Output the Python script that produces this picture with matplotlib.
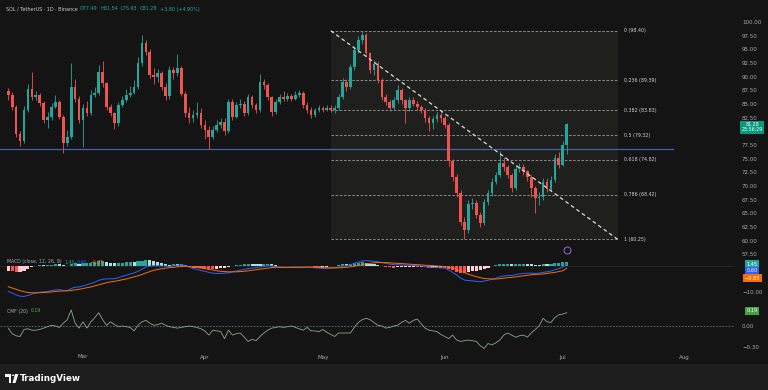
import numpy as np
import matplotlib
matplotlib.use("Agg")
import matplotlib.pyplot as plt
import matplotlib.dates as mdates
from matplotlib.patches import Rectangle, Circle, Polygon

# ---------------- data ----------------
start_date = "2024-02-11"
first_open = 87.4
closes = [86.6, 84.5, 79.5, 78.3, 84.0, 87.8, 86.3, 86.6, 85.2, 82.0,
          82.7, 84.5, 85.3, 82.7, 77.8, 79.0, 88.1, 86.0, 82.1, 84.2,
          83.4, 86.7, 87.1, 90.9, 88.8, 84.5, 83.3, 81.5, 84.8, 85.7,
          86.6, 87.0, 88.1, 92.5, 96.2, 94.6, 90.3, 89.9, 90.6, 88.2,
          86.4, 91.2, 90.6, 91.6, 86.9, 83.4, 82.5, 83.0, 83.4, 81.2,
          80.3, 79.0, 80.3, 81.2, 81.8, 80.0, 85.4, 82.7, 84.8, 85.1,
          83.3, 86.3, 84.8, 83.9, 89.1, 88.5, 86.3, 83.6, 85.4, 86.3,
          86.0, 86.5, 86.0, 86.6, 87.0, 84.8, 83.9, 83.0, 83.9, 84.2,
          84.0, 84.3, 84.0, 84.2, 86.3, 89.1, 88.2, 91.8, 94.9, 96.7,
          97.6, 94.3, 91.2, 92.4, 89.4, 86.3, 85.4, 84.2, 85.7, 87.6,
          85.7, 84.2, 85.7, 85.1, 84.5, 83.9, 82.4, 81.5, 82.3, 83.0,
          82.4, 81.2, 74.5, 71.7, 68.7, 63.5, 62.0, 66.8, 67.0, 64.7,
          63.2, 67.1, 68.7, 70.8, 72.0, 74.2, 73.5, 72.0, 69.6, 73.2,
          73.5, 72.7, 71.7, 69.6, 67.8, 68.0, 70.8, 69.5, 71.2, 75.1,
          73.9, 77.48, 81.28]
highs = [88.0, 87.2, 84.8, 80.0, 84.6, 88.6, 90.8, 87.4, 87.0, 85.6,
         83.6, 85.2, 86.6, 85.8, 83.0, 80.2, 92.5, 89.6, 86.5, 85.0,
         85.6, 87.6, 88.2, 92.2, 92.8, 89.0, 85.0, 83.6, 85.3, 86.5,
         87.8, 88.3, 89.4, 93.6, 97.6, 96.8, 95.0, 91.6, 91.4, 91.0,
         88.8, 92.0, 91.8, 94.2, 92.0, 87.3, 84.4, 84.0, 85.4, 84.2,
         82.0, 80.9, 81.0, 82.0, 82.4, 82.5, 86.0, 85.9, 85.3, 86.0,
         85.6, 86.9, 86.6, 85.2, 90.5, 89.6, 88.8, 86.5, 86.0, 86.9,
         87.4, 87.0, 86.9, 87.3, 87.6, 87.3, 85.3, 84.4, 84.3, 84.8,
         84.6, 84.8, 84.9, 84.8, 86.8, 89.8, 89.6, 92.4, 95.6, 97.4,
         98.4, 97.9, 94.6, 93.0, 92.8, 89.8, 86.8, 85.8, 86.2, 88.4,
         88.0, 86.0, 86.3, 86.2, 85.6, 84.9, 84.3, 82.9, 82.8, 83.6,
         83.5, 82.9, 81.6, 75.0, 72.2, 69.2, 64.4, 67.4, 67.8, 67.4,
         65.2, 67.6, 69.3, 71.4, 72.6, 76.5, 75.3, 73.9, 72.4, 73.9,
         74.3, 74.0, 73.0, 72.0, 70.0, 69.0, 71.5, 71.4, 71.8, 75.8,
         76.2, 78.2, 81.54]
lows = [85.8, 84.0, 79.0, 77.4, 77.9, 83.6, 85.8, 85.7, 84.7, 81.5,
        80.6, 82.1, 84.2, 82.2, 76.0, 77.3, 78.6, 85.4, 81.5, 77.2,
        82.8, 83.0, 86.2, 86.6, 88.2, 84.0, 82.8, 80.4, 81.0, 84.5,
        85.3, 86.2, 86.8, 87.8, 92.0, 94.0, 89.8, 88.6, 89.0, 87.6,
        85.8, 86.0, 89.6, 90.2, 86.4, 82.6, 81.5, 81.8, 82.4, 80.6,
        78.6, 76.8, 78.6, 79.8, 80.6, 79.4, 79.7, 82.0, 82.4, 84.3,
        82.8, 83.0, 84.3, 83.3, 83.6, 87.8, 85.8, 82.9, 83.2, 85.0,
        85.5, 85.6, 85.5, 85.7, 86.2, 84.3, 83.4, 82.5, 82.6, 83.6,
        83.5, 83.7, 83.6, 83.4, 83.9, 86.0, 87.4, 87.8, 91.3, 94.4,
        96.0, 93.8, 90.6, 90.4, 88.8, 85.8, 84.8, 83.7, 83.9, 85.2,
        85.0, 81.5, 83.8, 84.6, 84.0, 83.3, 81.8, 80.0, 80.4, 81.8,
        81.8, 80.6, 73.6, 71.0, 68.0, 62.8, 60.3, 61.5, 65.8, 64.1,
        62.5, 62.8, 66.6, 68.2, 70.3, 71.6, 72.8, 71.4, 69.0, 69.2,
        72.6, 72.0, 70.9, 68.0, 65.0, 66.5, 67.5, 68.9, 69.1, 70.8,
        73.4, 73.6, 75.93]

macd_line = [-9.6, -10.2, -10.9, -11.4, -11.5, -11.1, -10.6, -10.2, -9.9, -9.8,
             -9.6, -9.3, -9.0, -8.9, -9.2, -9.3, -8.5, -8.0, -7.9, -7.5,
             -7.1, -6.6, -6.1, -5.4, -5.0, -4.9, -4.8, -4.8, -4.4, -3.9,
             -3.5, -3.0, -2.6, -2.0, -1.2, -0.4, 0.0, 0.1, 0.1, 0.0,
             0.0, -0.2, 0.1, 0.3, 0.5, 0.2, -0.4, -0.9, -1.3, -1.7,
             -2.0, -2.4, -2.7, -2.8, -2.8, -2.7, -2.6, -2.2, -1.9, -1.6,
             -1.3, -1.0, -0.8, -0.6, -0.4, -0.2, 0.1, 0.0, -0.2, -0.4,
             -0.5, -0.5, -0.4, -0.4, -0.4, -0.4, -0.4, -0.5, -0.7, -0.8,
             -0.9, -0.9, -0.8, -0.7, -0.4, 0.0, 0.1, 0.5, 1.0, 1.5,
             1.9, 2.0, 1.9, 1.8, 1.6, 1.3, 1.0, 0.7, 0.5, 0.5,
             0.4, 0.3, 0.3, 0.2, 0.1, 0.0, -0.2, -0.4, -0.5, -0.6,
             -0.7, -0.8, -1.5, -2.4, -3.4, -4.5, -5.3, -5.5, -5.6, -5.8,
             -5.9, -5.7, -5.4, -5.0, -4.6, -4.1, -3.8, -3.6, -3.6, -3.3,
             -3.0, -2.8, -2.7, -2.7, -2.8, -2.7, -2.4, -2.2, -1.9, -1.4,
             -1.0, -0.4, 0.6]
signal_line = [-7.8, -8.3, -8.8, -9.3, -9.7, -10.0, -10.1, -10.1, -10.1, -10.0,
               -9.9, -9.8, -9.6, -9.5, -9.4, -9.4, -9.2, -9.0, -8.8, -8.5,
               -8.2, -7.9, -7.5, -7.1, -6.7, -6.3, -6.0, -5.8, -5.5, -5.2,
               -4.9, -4.5, -4.1, -3.7, -3.2, -2.6, -2.1, -1.6, -1.3, -1.0,
               -0.8, -0.6, -0.5, -0.3, -0.2, -0.1, -0.2, -0.3, -0.5, -0.8,
               -1.0, -1.3, -1.5, -1.8, -2.0, -2.1, -2.2, -2.2, -2.2, -2.1,
               -2.0, -1.8, -1.6, -1.4, -1.2, -1.0, -0.8, -0.6, -0.5, -0.5,
               -0.5, -0.5, -0.5, -0.5, -0.5, -0.5, -0.4, -0.4, -0.5, -0.5,
               -0.6, -0.7, -0.7, -0.7, -0.7, -0.6, -0.5, -0.3, -0.1, 0.2,
               0.5, 0.8, 1.0, 1.2, 1.3, 1.3, 1.3, 1.2, 1.1, 1.0,
               0.9, 0.8, 0.7, 0.6, 0.5, 0.4, 0.3, 0.2, 0.1, 0.0,
               -0.1, -0.2, -0.4, -0.8, -1.3, -1.9, -2.5, -3.1, -3.6, -4.0,
               -4.4, -4.7, -4.8, -4.9, -4.9, -4.8, -4.6, -4.4, -4.3, -4.1,
               -3.9, -3.7, -3.5, -3.3, -3.2, -3.1, -3.0, -2.8, -2.6, -2.4,
               -2.1, -1.8, -0.85]
cmf = [-0.03, -0.11, -0.14, -0.15, -0.05, -0.04, -0.06, -0.06, -0.05, -0.03,
       -0.01, 0.01, 0.00, -0.02, 0.04, 0.09, 0.23, 0.04, -0.03, 0.06,
       -0.03, 0.06, 0.12, 0.19, 0.09, 0.01, 0.06, 0.02, -0.01, 0.00,
       -0.01, -0.02, -0.07, 0.01, 0.06, 0.08, 0.04, 0.01, 0.02, 0.04,
       0.01, -0.01, -0.02, -0.03, -0.02, -0.01, 0.00, -0.01, -0.02, -0.04,
       -0.07, -0.13, -0.06, -0.07, -0.08, -0.18, -0.06, -0.13, -0.11, -0.10,
       -0.16, -0.22, -0.19, -0.21, -0.15, -0.10, -0.06, -0.03, -0.02, -0.01,
       -0.02, -0.01, 0.00, -0.02, -0.04, -0.06, -0.02, -0.07, -0.07, -0.08,
       -0.05, -0.09, -0.12, -0.15, -0.10, -0.10, -0.10, -0.10, -0.02, 0.05,
       0.09, 0.11, 0.09, 0.05, 0.01, 0.00, -0.03, -0.02, 0.00, 0.01,
       0.05, 0.08, 0.04, 0.08, 0.10, 0.03, -0.03, -0.06, -0.07, -0.08,
       -0.12, -0.15, -0.18, -0.13, -0.20, -0.22, -0.21, -0.20, -0.21, -0.22,
       -0.28, -0.32, -0.25, -0.27, -0.24, -0.20, -0.13, -0.10, -0.13, -0.16,
       -0.14, -0.13, -0.16, -0.10, -0.05, 0.00, 0.11, 0.06, 0.05, 0.12,
       0.16, 0.17, 0.19]

fib_ratio_labels = ["0", "0.236", "0.382", "0.5", "0.618", "0.786", "1"]
fib_prices = [98.40, 89.39, 83.83, 79.32, 74.82, 68.42, 60.25]
fib_start = "2024-05-03"
fib_end = "2024-07-15"
hline_price = 76.80
hline_end = "2024-07-29"
month_labels = ["Mar", "Apr", "May", "Jun", "Jul", "Aug"]
month_dates = ["2024-03-01", "2024-04-01", "2024-05-01", "2024-06-01", "2024-07-01", "2024-08-01"]
price_ticks = [57.5, 60.0, 62.5, 65.0, 67.5, 70.0, 72.5, 75.0, 77.5,
               82.5, 85.0, 87.5, 90.0, 92.5, 95.0, 97.5, 100.0]
macd_ticks = [-10.0]
cmf_ticks = [0.0, -0.30]

# ---------------- figure ----------------
W, H = 768, 390
BG = "#141414"
TXT = "#a8abb3"
UP = "#26a69a"
DN = "#ef5350"
plt.rcParams["font.family"] = ["DejaVu Sans"]

fig = plt.figure(figsize=(W / 100, H / 100), dpi=100)
fig.patch.set_facecolor(BG)
fig.patches.append(Rectangle((0, 0), 1, 26 / H, transform=fig.transFigure,
                             facecolor="#1e1e1e", edgecolor="none", zorder=0))


def px_axes(x0, y0, x1, y1):
    a = fig.add_axes([x0 / W, 1 - y1 / H, (x1 - x0) / W, (y1 - y0) / H])
    a.set_facecolor("none")
    for s in a.spines.values():
        s.set_visible(False)
    a.yaxis.tick_right()
    a.tick_params(axis="y", length=0, labelsize=4, colors=TXT, pad=5)
    a.tick_params(axis="x", length=0, labelbottom=False)
    return a


dates = np.arange(np.datetime64(start_date), np.datetime64(start_date) + len(closes))
xd = mdates.date2num(dates)
opens = [first_open] + closes[:-1]
xlim = (xd[0] - 2.1, xd[0] + 184.8)

# price pane: y=22 px -> 100, 5.47 px per unit
ax = px_axes(0, 18, 735, 256)
ax.set_xlim(*xlim)
ax.set_ylim(100 - (256 - 22) / 5.47, 100 + (22 - 18) / 5.47)
ax.set_yticks(price_ticks)
ax.set_yticklabels([f"{v:.2f}" for v in price_ticks])

# fib box
fs, fe = mdates.date2num(np.datetime64(fib_start)), mdates.date2num(np.datetime64(fib_end))
ax.add_patch(Rectangle((fs, fib_prices[-1]), fe - fs, fib_prices[0] - fib_prices[-1],
                       facecolor="#1f201d", edgecolor="none", zorder=0))
for lab, p in zip(fib_ratio_labels, fib_prices):
    ax.plot([fs, fe], [p, p], color="#9a9ca3", lw=0.6, dashes=(3, 2), zorder=1)
    ax.text(fe + 1.6, p, f"{lab} ({p:.2f})", color="#d0d2d8", fontsize=3.4,
            va="center", ha="left")

# blue horizontal line
ax.plot([xlim[0], mdates.date2num(np.datetime64(hline_end))], [hline_price, hline_price],
        color="#4262b0", lw=0.9, zorder=2)

# candles
o = np.array(opens); c = np.array(closes); h = np.array(highs); l = np.array(lows)
cols = np.where(c >= o, UP, DN)
ax.vlines(xd, l, h, colors=cols, lw=0.6, zorder=3)
body_b = np.minimum(o, c)
body_h = np.maximum(np.abs(c - o), 0.12)
ax.bar(xd, body_h, bottom=body_b, width=0.68, color=cols, edgecolor="none", zorder=4)

# trend line
ax.plot([fs, fe], [fib_prices[0], fib_prices[-1]], color="#dcdcdc", lw=0.9,
        dashes=(3, 2.4), zorder=5)

# event marker
ax.plot([xd[-1]], [58.3], marker="o", ms=5, mfc="none", mec="#8a6fd6", mew=0.7,
        clip_on=False, zorder=6)

# MACD pane: zero at y=266, 2.65 px per unit
ax2 = px_axes(0, 256, 735, 302)
ax2.set_xlim(*xlim)
ax2.set_ylim(-(302 - 266) / 2.65, (266 - 256) / 2.65)
ax2.set_yticks(macd_ticks)
ax2.set_yticklabels([f"{v:.2f}".replace("-", "\u2212") for v in macd_ticks])
ml = np.array(macd_line); sl = np.array(signal_line)
hist = ml - sl
hcols = []
for i, v in enumerate(hist):
    prev = hist[i - 1] if i > 0 else v
    if v >= 0:
        hcols.append("#26a69a" if v > prev else "#b2dfdb")
    else:
        hcols.append("#ff5252" if v < prev else "#ffcdd2")
ax2.axhline(0, color="#2a2a2a", lw=0.5, zorder=0)
ax2.bar(xd, hist, width=0.8, color=hcols, edgecolor="none", zorder=2)
ax2.plot(xd, ml, color="#2962ff", lw=0.7, zorder=3)
ax2.plot(xd, sl, color="#ff6d00", lw=0.7, zorder=3)

# CMF pane: zero at y=326, 70 px per unit
ax3 = px_axes(0, 302, 735, 352)
ax3.set_xlim(*xlim)
ax3.set_ylim(-(352 - 326) / 70, (326 - 302) / 70)
ax3.set_yticks(cmf_ticks)
ax3.set_yticklabels([f"{v:.2f}".replace("-", "\u2212") for v in cmf_ticks])
ax3.axhline(0, color="#787b86", lw=0.5, dashes=(2.5, 2), zorder=1)
ax3.plot(xd, cmf, color="#8ea590", lw=0.6, zorder=2)

# month labels
for lab, d in zip(month_labels, month_dates):
    dn = mdates.date2num(np.datetime64(d))
    xp = (dn - xlim[0]) / (xlim[1] - xlim[0]) * 735
    fig.text(xp / W, 1 - 357 / H, lab, color=TXT, fontsize=4, ha="center", va="center")

renderer = fig.canvas.get_renderer()


def seq_text(x_px, y_px, parts, size, gap=2.5):
    x = x_px
    for s, col in parts:
        t = fig.text(x / W, 1 - y_px / H, s, color=col, fontsize=size, va="center", ha="left")
        x += t.get_window_extent(renderer=renderer).width + gap


seq_text(6, 9, [("SOL / TetherUS · 1D · Binance", "#c9ccd3"),
                ("O77.49", UP), ("H81.54", UP), ("L75.93", UP), ("C81.28", UP),
                ("+3.80 (+4.90%)", UP)], 3.5)
seq_text(7, 262, [("MACD (close, 12, 26, 9)", "#a8abb3"), ("1.45", "#26a69a"),
                  ("0.60", "#2962ff"), ("\u22120.85", "#ff6d00")], 3.3)
seq_text(7, 311, [("CMF (20)", "#a8abb3"), ("0.19", "#4caf50")], 3.3)


def box_label(y_px, s, fc, size=3.6, pad=0.35):
    fig.text(752 / W, 1 - y_px / H, s, color="white", fontsize=size, ha="center", va="center",
             linespacing=1.05, bbox=dict(boxstyle=f"square,pad={pad}", fc=fc, ec="none"))


box_label(127.3, "81.28\n23:56:29", "#089981", size=3.4, pad=0.32)
box_label(264, "1.45", "#26a69a")
box_label(271, "0.60", "#2962ff")
box_label(278, "\u22120.85", "#ff6d00")
box_label(311, "0.19", "#43a047")

# TradingView logo
tf = fig.transFigure
def P(x, y):
    return (x / W, 1 - y / H)
fig.patches.append(Polygon([P(5, 374), P(11, 374), P(11, 383), P(8.5, 383), P(8.5, 376.5), P(5, 376.5)],
                           closed=True, transform=tf, facecolor="white", edgecolor="none"))
fig.patches.append(Circle(P(13, 375.3), 1.3 / W, transform=tf, facecolor="white", edgecolor="none"))
fig.patches.append(Polygon([P(15, 374), P(18.5, 374), P(15.5, 383), P(12.5, 383)],
                           closed=True, transform=tf, facecolor="white", edgecolor="none"))
fig.text(20 / W, 1 - 378.5 / H, "TradingView", color="white", fontsize=6.3,
         fontweight="bold", ha="left", va="center")

fig.savefig("out.png", dpi=100, facecolor=BG)
